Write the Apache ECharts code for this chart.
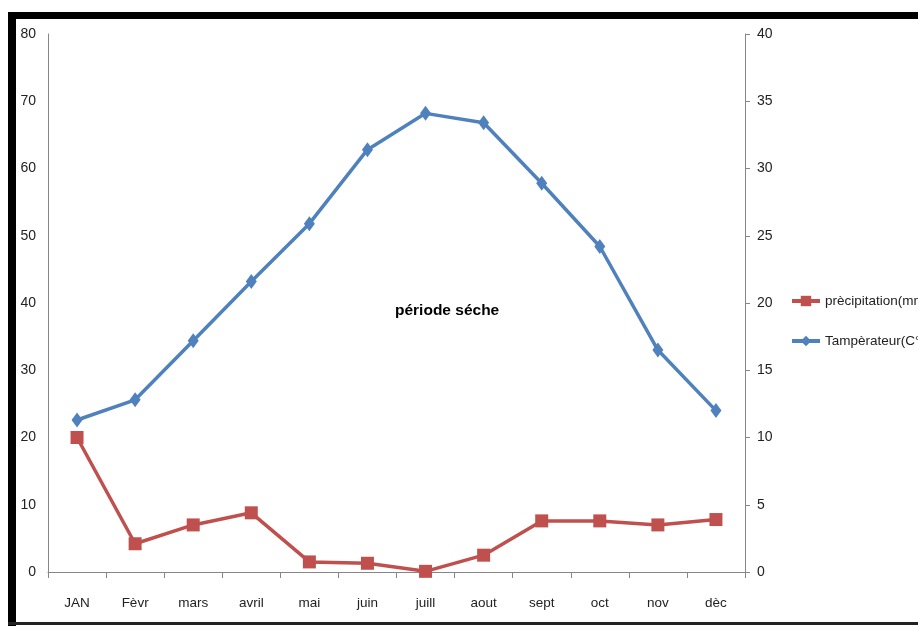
<!DOCTYPE html>
<html>
<head>
<meta charset="utf-8">
<script src="https://cdn.jsdelivr.net/npm/echarts@6/dist/echarts.min.js"></script>
<style>
html,body{margin:0;padding:0;background:#fff;}
#wrap{position:relative;width:918px;height:626px;overflow:hidden;background:#fff;}
#chart{position:absolute;left:0;top:0;width:918px;height:626px;}
.b{position:absolute;background:#000;}
</style>
</head>
<body>
<div id="wrap">
<div id="chart"></div>
<div class="b" style="left:8px;top:12px;width:910px;height:7px;"></div>
<div class="b" style="left:8px;top:12px;width:8px;height:614px;"></div>
<div class="b" style="left:8px;top:622px;width:910px;height:3px;background:#222;"></div>
</div>
<script>
var categories = ['JAN','Fèvr','mars','avril','mai','juin','juill','aout','sept','oct','nov','dèc'];
var precipitation = [20, 4.2, 7.0, 8.8, 1.5, 1.3, 0.1, 2.5, 7.6, 7.6, 7.0, 7.8];
var temperature = [11.3, 12.8, 17.2, 21.6, 25.9, 31.4, 34.1, 33.4, 28.9, 24.2, 16.5, 12.0];
var leftTicks = [0, 80, 10];
var rightTicks = [0, 40, 5];
var seriesNames = ['prècipitation(mm', 'Tampèrateur(C°)'];
var annotation = 'période séche';

var FONT = '"Liberation Sans Narrow", "Liberation Sans", sans-serif';
var chart = echarts.init(document.getElementById('chart'));
chart.setOption({
  animation: false,
  textStyle: {fontFamily: FONT},
  grid: {left: 48, right: 173, top: 34, bottom: 54, containLabel: false},
  legend: {
    orient: 'vertical', left: 785, top: 289, itemGap: 26,
    itemWidth: 28, itemHeight: 13,
    lineStyle: {width: 4},
    textStyle: {fontFamily: FONT, fontSize: 13.5, color: '#222'},
    data: seriesNames
  },
  xAxis: {
    type: 'category', data: categories, boundaryGap: true,
    axisLine: {lineStyle: {color: '#868686', width: 1}},
    axisTick: {show: true, length: 6, inside: false, lineStyle: {color: '#868686'}},
    axisLabel: {margin: 24, fontSize: 13.5, color: '#222', fontFamily: FONT}
  },
  yAxis: [{
    type: 'value', min: leftTicks[0], max: leftTicks[1], interval: leftTicks[2],
    position: 'left',
    axisLine: {show: true, lineStyle: {color: '#868686'}},
    axisTick: {show: false},
    splitLine: {show: false},
    axisLabel: {margin: 12, fontSize: 14, color: '#222', fontFamily: FONT}
  }, {
    type: 'value', min: rightTicks[0], max: rightTicks[1], interval: rightTicks[2],
    position: 'right',
    axisLine: {show: true, lineStyle: {color: '#868686'}},
    axisTick: {show: true, length: 5, lineStyle: {color: '#868686'}},
    splitLine: {show: false},
    axisLabel: {margin: 12, fontSize: 14, color: '#222', fontFamily: FONT}
  }],
  series: [{
    name: seriesNames[0], type: 'line', yAxisIndex: 0, data: precipitation,
    symbol: 'rect', symbolSize: 13,
    lineStyle: {color: '#C0504D', width: 3.5},
    itemStyle: {color: '#C0504D'}
  }, {
    name: seriesNames[1], type: 'line', yAxisIndex: 1, data: temperature,
    symbol: 'diamond', symbolSize: [11, 15],
    lineStyle: {color: '#4F81BD', width: 3.5},
    itemStyle: {color: '#4F81BD'}
  }],
  graphic: [{
    type: 'text', left: 395, top: 303,
    style: {text: annotation, fontFamily: FONT, fontSize: 15.5, fontWeight: 'bold', fill: '#000'}
  }]
});
</script>
</body>
</html>
